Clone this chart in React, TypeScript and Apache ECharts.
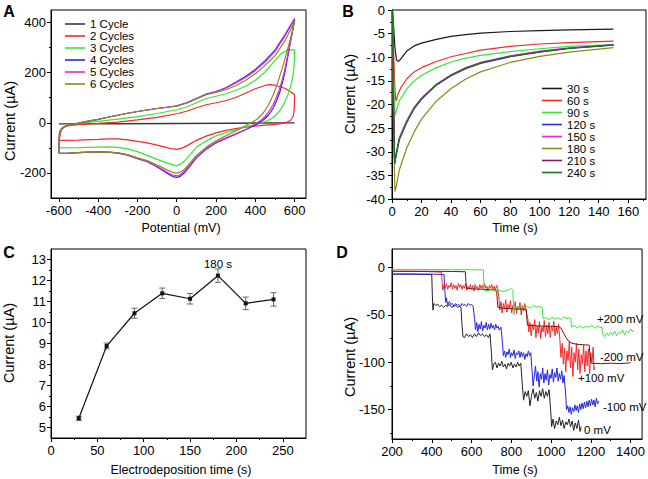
import React, { useEffect, useRef } from "react";
import * as echarts from "echarts";

const FONT = '"Liberation Sans", Arial, Helvetica, sans-serif';

// ---------- Panel A: cyclic voltammograms (potential mV, current µA) ----------
const cycleNames = ["1 Cycle", "2 Cycles", "3 Cycles", "4 Cycles", "5 Cycles", "6 Cycles"];
const cycleColors = ["#3a3a3a", "#f42a2a", "#36e636", "#2a2ad6", "#e622e6", "#8a8a1c"];
const cv1 = [[-600, -4], [-300, -3], [0, -2], [300, -1], [600, 0], [600, -1], [300, -2], [0, -3], [-300, -4], [-600, -4]];
const cv2 = [
  [-600, -70], [-599, -50], [-596, -35], [-588, -24], [-575, -17], [-550, -11], [-500, -7], [-450, -4], [-400, -2], [-300, 3], [-200, 12], [-100, 22], [0, 36], [50, 46], [100, 60], [150, 72], [200, 80], [250, 89], [300, 101], [350, 118], [400, 136], [450, 149], [475, 152], [500, 150], [550, 138], [580, 124], [600, 112],
  [599, 75], [597, 45], [592, 25], [580, 10], [560, 2], [530, -3], [500, -6], [450, -9], [400, -13], [350, -17], [300, -23], [250, -30], [200, -40], [150, -53], [100, -70], [60, -88], [30, -100], [0, -106], [-30, -103], [-60, -97], [-100, -89], [-150, -80], [-200, -74], [-250, -68], [-300, -64], [-350, -64], [-400, -66], [-500, -69], [-580, -70], [-600, -70],
];
const cv3 = [
  [-600, -100], [-599, -70], [-597, -48], [-592, -32], [-582, -20], [-565, -12], [-540, -7], [-500, -3], [-450, 2], [-400, 6], [-300, 15], [-200, 25], [-100, 37], [0, 52], [50, 63], [100, 80], [150, 97], [200, 106], [250, 116], [300, 129], [350, 146], [400, 170], [450, 203], [500, 248], [530, 275], [560, 288], [600, 292],
  [599, 255], [596, 215], [590, 180], [578, 140], [565, 110], [545, 75], [525, 48], [500, 27], [475, 13], [450, 5], [420, -2], [400, -6], [350, -16], [300, -28], [250, -39], [200, -52], [150, -72], [100, -98], [70, -125], [40, -152], [15, -167], [0, -171], [-20, -168], [-50, -160], [-100, -146], [-150, -130], [-200, -115], [-250, -104], [-300, -98], [-350, -96], [-400, -97], [-500, -99], [-600, -100],
];
const cv4 = [
  [-600, -122], [-599, -90], [-597, -60], [-593, -40], [-585, -25], [-570, -15], [-550, -9], [-520, -4], [-500, -1], [-450, 7], [-400, 14], [-350, 22], [-300, 30], [-250, 38], [-200, 45], [-150, 51], [-100, 57], [-50, 62], [0, 68], [50, 80], [100, 97], [150, 115], [200, 125], [250, 140], [300, 162], [350, 185], [400, 213], [450, 248], [500, 290], [550, 350], [600, 416],
  [590, 370], [576, 309], [562, 250], [551, 203], [538, 160], [525, 123], [510, 92], [495, 65], [480, 45], [466, 30], [445, 14], [424, 2], [400, -10], [350, -28], [300, -45], [250, -62], [200, -80], [150, -105], [100, -140], [70, -170], [40, -199], [15, -215], [0, -218], [-15, -216], [-40, -206], [-70, -190], [-100, -176], [-150, -155], [-200, -143], [-250, -129], [-300, -121], [-350, -117], [-400, -116], [-450, -117], [-500, -119], [-550, -121], [-600, -122],
];
const cv5 = [
  [-600, -122], [-599, -90], [-597, -60], [-593, -40], [-585, -25], [-570, -15], [-550, -9], [-520, -4], [-500, -1], [-450, 7], [-400, 14], [-350, 22], [-300, 30], [-250, 38], [-200, 45], [-150, 51], [-100, 57], [-50, 62], [0, 67], [50, 79], [100, 96], [150, 114], [200, 124], [250, 138], [300, 159], [350, 181], [400, 208], [450, 243], [500, 285], [550, 345], [600, 412],
  [590, 372], [576, 315], [562, 258], [548, 205], [534, 163], [520, 128], [505, 98], [490, 72], [475, 52], [455, 30], [435, 14], [415, 3], [395, -8], [350, -27], [300, -44], [250, -60], [200, -78], [150, -102], [100, -136], [70, -165], [40, -192], [15, -209], [0, -212], [-15, -210], [-40, -201], [-70, -186], [-100, -174], [-150, -154], [-200, -142], [-250, -128], [-300, -120], [-350, -117], [-400, -116], [-450, -117], [-500, -119], [-550, -121], [-600, -122],
];
const cv6 = [
  [-600, -122], [-599, -90], [-597, -60], [-593, -40], [-585, -25], [-570, -15], [-550, -9], [-520, -4], [-500, -1], [-450, 7], [-400, 14], [-350, 22], [-300, 30], [-250, 38], [-200, 45], [-150, 51], [-100, 57], [-50, 62], [0, 66], [50, 78], [100, 95], [150, 112], [200, 121], [250, 132], [300, 148], [350, 169], [400, 196], [450, 229], [500, 267], [550, 326], [600, 403],
  [592, 375], [580, 340], [565, 295], [550, 252], [535, 212], [520, 175], [505, 140], [490, 110], [470, 76], [450, 50], [430, 30], [410, 15], [390, 5], [370, -3], [350, -12], [300, -33], [250, -52], [200, -72], [150, -97], [100, -130], [70, -158], [40, -185], [15, -198], [0, -201], [-15, -199], [-40, -191], [-70, -179], [-100, -169], [-150, -151], [-200, -140], [-250, -127], [-300, -120], [-350, -117], [-400, -116], [-450, -117], [-500, -119], [-550, -121], [-600, -122],
];
const cvData = [cv1, cv2, cv3, cv4, cv5, cv6];

// ---------- Panel B: current transients (time s, current µA) ----------
const depNames = ["30 s", "60 s", "90 s", "120 s", "150 s", "180 s", "210 s", "240 s"];
const depColors = ["#1a1a1a", "#f42a2a", "#36e636", "#2a2ad6", "#e622e6", "#8a8a1c", "#7a1a7a", "#1a7a1a"];
const it30 = [[0.3, 0], [1, -3], [2, -8], [3, -10.5], [4, -10.9], [5, -10.7], [7, -9.9], [10, -8.7], [15, -7.6], [20, -7.0], [30, -6.2], [40, -5.6], [50, -5.2], [60, -4.9], [80, -4.55], [100, -4.35], [120, -4.2], [150, -4.05]];
const it60 = [[0.3, 0], [1, -8], [2, -17], [2.7, -19.3], [4, -17.9], [6, -16.4], [10, -14.6], [15, -13.1], [20, -12.2], [30, -10.9], [40, -9.9], [50, -9.2], [60, -8.5], [80, -7.7], [100, -7.2], [120, -6.9], [150, -6.6]];
const it90 = [[0.3, 0], [1, -12], [2, -22.4], [3, -21.2], [5, -19.2], [10, -16.7], [15, -15.0], [20, -13.8], [30, -12.2], [40, -11.0], [50, -10.2], [60, -9.6], [80, -8.8], [100, -8.2], [120, -7.7], [150, -7.3]];
const it120 = [[0.3, 0], [1, -20], [1.8, -32.4], [3, -30.2], [5, -27.2], [10, -23.6], [15, -20.7], [20, -18.7], [30, -15.8], [40, -13.8], [50, -12.3], [60, -11.2], [80, -9.8], [100, -8.8], [120, -8.1], [150, -7.4]];
const it150 = [[0.3, 0], [1, -20], [1.8, -32.3], [3, -30.0], [5, -27.0], [10, -23.4], [15, -20.6], [20, -18.6], [30, -15.7], [40, -13.7], [50, -12.2], [60, -11.1], [80, -9.7], [100, -8.7], [120, -8.0], [150, -7.35]];
const it180 = [[0.3, 0], [1, -25], [2, -38.4], [3, -37.2], [5, -33.8], [10, -29.2], [15, -25.8], [20, -23.1], [30, -19.3], [40, -16.6], [50, -14.6], [60, -13.1], [80, -11.1], [100, -9.8], [120, -8.9], [150, -7.95]];
const it210 = [[0.3, 0], [1, -20], [1.8, -32.6], [3, -30.4], [5, -27.4], [10, -23.8], [15, -20.9], [20, -18.9], [30, -15.9], [40, -13.9], [50, -12.4], [60, -11.3], [80, -9.9], [100, -8.9], [120, -8.15], [150, -7.45]];
const it240 = [[0.3, 0], [1, -20], [1.8, -32.5], [3, -30.3], [5, -27.3], [10, -23.7], [15, -20.8], [20, -18.8], [30, -15.8], [40, -13.8], [50, -12.3], [60, -11.2], [80, -9.8], [100, -8.85], [120, -8.1], [150, -7.4]];
const itData = [it30, it60, it90, it120, it150, it180, it210, it240];

// ---------- Panel C: peak current vs electrodeposition time ----------
const depTimes = [30, 60, 90, 120, 150, 180, 210, 240];
const peakCurrent = [5.44, 8.88, 10.44, 11.39, 11.13, 12.23, 10.91, 11.1];
const peakError = [0.1, 0.14, 0.24, 0.25, 0.25, 0.32, 0.3, 0.32];

// ---------- Panel D: amperometric responses (time s, current µA) ----------
const ampNames = ["0 mV", "-100 mV", "+100 mV", "-200 mV", "+200 mV"];
const ampColors = ["#222222", "#2424e0", "#f42a2a", "#7a1010", "#36e636"];
const amp0 = [
  [200, -7], [300, -7], [400, -7.5], [403, -30], [406, -45], [410, -38], [420, -40], [430, -39], [440, -41], [450, -40], [460, -42], [470, -40], [480, -41], [490, -39], [500, -42], [510, -41], [520, -40], [530, -42], [540, -41], [547, -42],
  [552, -60], [557, -73], [565, -74], [575, -70], [585, -73], [595, -71], [605, -74], [615, -70], [625, -73], [635, -69], [645, -72], [655, -70], [665, -73], [675, -71], [685, -74], [693, -70],
  [700, -90], [705, -108], [712, -102], [720, -100], [728, -106], [736, -101], [744, -104], [752, -99], [760, -105], [768, -102], [776, -107], [784, -101], [792, -104], [800, -100], [808, -106], [816, -102], [824, -105], [832, -100], [840, -104], [848, -101],
  [856, -125], [862, -140], [870, -131], [878, -136], [886, -130], [894, -146], [902, -135], [910, -128], [918, -138], [926, -132], [934, -141], [942, -130], [950, -136], [958, -128], [966, -138], [974, -131], [982, -136], [990, -129],
  [998, -150], [1003, -168], [1010, -160], [1018, -170], [1026, -162], [1034, -166], [1042, -158], [1050, -167], [1058, -161], [1066, -170], [1074, -163], [1082, -166], [1090, -160], [1098, -168], [1106, -162], [1114, -172], [1122, -164], [1130, -170], [1138, -161], [1146, -173], [1152, -168],
];
const ampM100 = [
  [200, -7], [300, -7], [400, -7], [462, -7.5], [466, -25], [470, -37], [474, -32], [480, -40], [488, -36], [496, -39], [504, -38], [512, -41], [520, -38], [528, -40], [536, -39], [544, -41], [552, -38], [560, -40], [568, -39], [576, -41], [584, -38], [592, -40], [600, -39], [608, -41],
  [616, -55], [620, -66], [626, -58], [632, -68], [638, -60], [644, -65], [650, -57], [656, -67], [662, -61], [668, -64], [674, -58], [680, -66], [686, -60], [692, -65], [698, -59], [704, -64], [710, -61], [716, -66], [722, -60], [728, -64], [734, -62], [740, -66], [748, -63],
  [756, -80], [760, -93], [766, -88], [772, -95], [778, -89], [784, -92], [790, -86], [796, -95], [802, -90], [808, -93], [814, -87], [820, -96], [826, -90], [832, -92], [838, -88], [844, -95], [850, -89], [856, -94], [862, -90], [868, -97], [874, -91], [880, -94], [886, -88], [892, -93], [898, -90],
  [905, -110], [910, -125], [916, -114], [922, -104], [928, -120], [934, -110], [940, -126], [946, -112], [952, -118], [958, -106], [964, -122], [970, -112], [976, -119], [982, -108], [988, -124], [994, -113], [1000, -117], [1006, -107], [1012, -121], [1018, -111], [1024, -116], [1030, -106], [1036, -120], [1042, -112], [1048, -118], [1054, -109], [1060, -122], [1066, -114],
  [1074, -135], [1078, -150], [1084, -146], [1090, -153], [1096, -147], [1102, -155], [1108, -148], [1114, -152], [1120, -145], [1126, -151], [1132, -146], [1138, -153], [1144, -144], [1150, -150], [1156, -143], [1162, -149], [1168, -142], [1174, -148], [1180, -141], [1186, -147], [1192, -140], [1198, -146], [1204, -139], [1210, -145], [1216, -140], [1222, -147], [1228, -138], [1234, -144], [1240, -141],
];
const ampP100 = [
  [200, -4], [300, -4], [400, -4.5], [449, -5], [452, -15], [456, -24], [462, -18], [468, -22], [474, -17], [480, -23], [486, -19], [492, -21], [498, -16], [504, -23], [510, -18], [516, -22], [522, -19], [528, -24], [534, -17], [540, -21], [546, -18], [552, -23], [558, -19], [564, -22], [570, -17], [576, -24], [582, -20], [588, -22], [594, -18], [600, -23], [606, -19], [612, -25], [618, -18], [624, -22], [630, -20], [636, -24], [642, -18], [648, -22], [654, -19], [660, -23], [666, -17], [672, -22], [678, -20], [684, -25], [690, -19], [696, -22], [702, -18], [708, -23], [714, -20], [720, -24], [726, -19], [732, -22],
  [738, -32], [742, -45], [748, -36], [754, -48], [760, -38], [766, -44], [772, -34], [778, -47], [784, -39], [790, -43], [796, -35], [802, -48], [808, -40], [814, -45], [820, -36], [826, -49], [832, -41], [838, -44], [844, -37], [850, -50], [856, -40], [862, -46], [868, -38], [874, -45],
  [884, -55], [888, -68], [894, -58], [900, -72], [906, -60], [912, -66], [918, -55], [924, -74], [930, -62], [936, -69], [942, -57], [948, -75], [954, -63], [960, -68], [966, -56], [972, -73], [978, -61], [984, -70], [990, -58], [996, -74], [1002, -62], [1008, -67], [1014, -57], [1020, -72], [1026, -63], [1032, -70], [1038, -60],
  [1044, -75], [1050, -95], [1056, -80], [1062, -102], [1068, -85], [1074, -110], [1080, -88], [1086, -98], [1092, -78], [1098, -106], [1104, -84], [1110, -115], [1116, -90], [1122, -100], [1128, -80], [1134, -108], [1140, -86], [1146, -112], [1152, -92], [1158, -102], [1164, -82], [1170, -110], [1176, -88], [1182, -104], [1188, -86], [1194, -112], [1200, -90], [1206, -100], [1212, -84], [1216, -108], [1220, -105],
];
const ampM200 = [
  [200, -4], [300, -4], [400, -4], [500, -4.2], [569, -4.5], [572, -15], [575, -22], [600, -22.5], [650, -23], [700, -23.5], [726, -24],
  [730, -35], [733, -42], [760, -43], [800, -43.5], [850, -44], [875, -44], [879, -55], [882, -61], [920, -61.5], [960, -62], [1000, -62], [1040, -62.5], [1050, -64], [1060, -68], [1075, -74], [1090, -78], [1105, -80], [1130, -81], [1160, -81.5], [1192, -82],
  [1197, -95], [1202, -101], [1250, -101.5], [1300, -101], [1350, -101.5], [1400, -100.5],
];
const ampP200 = [
  [200, -2], [300, -2], [400, -2.2], [500, -2.3], [600, -2.4], [660, -2.5], [663, -24], [680, -24.5], [700, -23.5], [720, -25], [740, -24], [760, -25.5], [780, -24], [790, -23], [800, -22.5], [808, -24],
  [811, -40], [813, -50], [816, -41], [835, -43], [850, -40.5], [865, -42.5], [880, -41], [895, -43], [910, -40], [925, -42], [940, -41], [955, -42.5],
  [961, -54], [975, -53], [990, -55], [1005, -52.5], [1020, -54.5], [1035, -53], [1050, -55], [1065, -52], [1080, -54], [1095, -53], [1100, -54],
  [1103, -63], [1115, -61], [1130, -63.5], [1145, -61.5], [1160, -64], [1175, -62], [1190, -63], [1205, -61], [1220, -64], [1235, -62], [1250, -63.5], [1255, -62],
  [1259, -70], [1270, -73], [1280, -69], [1290, -72], [1300, -68], [1310, -71], [1320, -67], [1330, -72], [1340, -68], [1350, -70], [1360, -66], [1370, -71], [1380, -67], [1390, -69], [1400, -65], [1410, -68], [1416, -66],
];
const ampData = [amp0, ampM100, ampP100, ampM200, ampP200];

// ---------- tick values ----------
const aXMajor = [-600, -400, -200, 0, 200, 400, 600];
const aXMinor = [-500, -300, -100, 100, 300, 500];
const aYMajor = [-200, 0, 200, 400];
const aYMinor = [-100, 100, 300];
const bXMajor = [0, 20, 40, 60, 80, 100, 120, 140, 160];
const bXMinor = [10, 30, 50, 70, 90, 110, 130, 150, 170];
const bYMajor = [0, -5, -10, -15, -20, -25, -30, -35, -40];
const bYMinor = [-2.5, -7.5, -12.5, -17.5, -22.5, -27.5, -32.5, -37.5];
const cXMajor = [0, 50, 100, 150, 200, 250];
const cXMinor = [25, 75, 125, 175, 225];
const cYMajor = [5, 6, 7, 8, 9, 10, 11, 12, 13];
const cYMinor = [5.5, 6.5, 7.5, 8.5, 9.5, 10.5, 11.5, 12.5];
const dXMajor = [200, 400, 600, 800, 1000, 1200, 1400];
const dXMinor = [300, 500, 700, 900, 1100, 1300];
const dYMajor = [-150, -100, -50, 0];
const dYMinor = [-175, -125, -75, -25];

function axisPair(gridIndex: number, position: string, min: number, max: number, majors: number[], minors: number[], margin: number) {
  const base = { type: "value", gridIndex, min, max, position, splitLine: { show: false } };
  return [
    {
      ...base,
      axisLine: { show: true, onZero: false, lineStyle: { color: "#000", width: 1 } },
      axisTick: { show: true, inside: false, length: 4, customValues: majors, lineStyle: { color: "#000", width: 1 } },
      axisLabel: {
        show: true, customValues: majors, margin, fontSize: 13, color: "#000", fontFamily: FONT, hideOverlap: false,
        formatter: (v: number) => String(v),
      },
    },
    {
      ...base,
      axisLine: { show: false, onZero: false },
      axisTick: { show: true, inside: false, length: 2, customValues: minors, lineStyle: { color: "#000", width: 1 } },
      axisLabel: { show: false },
    },
  ];
}

function text(x: number, y: number, t: string, size: number, opts: any = {}) {
  return {
    type: "text",
    x,
    y,
    rotation: opts.rotation || 0,
    style: {
      text: t,
      fontSize: size,
      fontFamily: FONT,
      fontWeight: opts.bold ? "bold" : "normal",
      fill: "#000",
      align: opts.align || "center",
      verticalAlign: "middle",
    },
  };
}

export default function App() {
  const ref = useRef<HTMLDivElement>(null);
  useEffect(() => {
    const chart = echarts.init(ref.current!, null, { renderer: "svg" });
    const gridBox = { show: true, borderColor: "#000", borderWidth: 1, backgroundColor: "transparent" };
    const xAxis = [
      ...axisPair(0, "bottom", -640, 658, aXMajor, aXMinor, 6),
      ...axisPair(1, "bottom", 0, 172, bXMajor, bXMinor, 6),
      ...axisPair(2, "bottom", 0, 275, cXMajor, cXMinor, 6),
      ...axisPair(3, "bottom", 200, 1458, dXMajor, dXMinor, 6),
    ];
    const yAxis = [
      ...axisPair(0, "left", -300, 450, aYMajor, aYMinor, 5),
      ...axisPair(1, "left", -40, 0, bYMajor, bYMinor, 7),
      ...axisPair(2, "left", 4.5, 13.5, cYMajor, cYMinor, 5),
      ...axisPair(3, "left", -181, 19.5, dYMajor, dYMinor, 7),
    ];
    const series: any[] = [];
    cvData.forEach((d, i) =>
      series.push({
        type: "line", name: cycleNames[i], data: d, xAxisIndex: 0, yAxisIndex: 0,
        symbol: "none", lineStyle: { width: 1.2, color: cycleColors[i] }, itemStyle: { color: cycleColors[i] },
      })
    );
    itData.forEach((d, i) =>
      series.push({
        type: "line", name: depNames[i], data: d, xAxisIndex: 2, yAxisIndex: 2,
        symbol: "none", lineStyle: { width: 1.2, color: depColors[i] }, itemStyle: { color: depColors[i] },
      })
    );
    series.push({
      type: "custom", name: "err", xAxisIndex: 4, yAxisIndex: 4,
      data: depTimes.map((x, i) => [x, peakCurrent[i], peakError[i]]),
      encode: { x: 0, y: 1 },
      renderItem: (params: any, api: any) => {
        const x = api.value(0), y = api.value(1), e = api.value(2);
        const a = api.coord([x, y + e]);
        const b = api.coord([x, y - e]);
        const st = { stroke: "#666", lineWidth: 1 };
        return {
          type: "group",
          children: [
            { type: "line", shape: { x1: a[0], y1: a[1], x2: b[0], y2: b[1] }, style: st },
            { type: "line", shape: { x1: a[0] - 3, y1: a[1], x2: a[0] + 3, y2: a[1] }, style: st },
            { type: "line", shape: { x1: b[0] - 3, y1: b[1], x2: b[0] + 3, y2: b[1] }, style: st },
          ],
        };
      },
    });
    series.push({
      type: "line", name: "peak", data: depTimes.map((x, i) => [x, peakCurrent[i]]), xAxisIndex: 4, yAxisIndex: 4,
      symbol: "rect", symbolSize: 4, showSymbol: true, lineStyle: { width: 1.2, color: "#111" }, itemStyle: { color: "#111" },
    });
    ampData.forEach((d, i) =>
      series.push({
        type: "line", name: ampNames[i], data: d, xAxisIndex: 6, yAxisIndex: 6,
        symbol: "none", lineStyle: { width: 1, color: ampColors[i] }, itemStyle: { color: ampColors[i] },
      })
    );

    const legendCommon = {
      orient: "vertical", itemWidth: 20, itemHeight: 1.6, itemGap: 0, padding: 0, icon: "rect",
      textStyle: { fontSize: 11.5, fontFamily: FONT, color: "#000", lineHeight: 11.6 },
      selectedMode: false,
    };

    chart.setOption({
      animation: false,
      backgroundColor: "#fff",
      grid: [
        { left: 51, top: 10, width: 255, height: 188, ...gridBox },
        { left: 392, top: 10, width: 254, height: 189, ...gridBox },
        { left: 51, top: 249, width: 255, height: 189, ...gridBox },
        { left: 392, top: 249, width: 254, height: 190, ...gridBox },
      ],
      xAxis,
      yAxis,
      legend: [
        { ...legendCommon, left: 65, top: 18, data: cycleNames },
        { ...legendCommon, left: 542, top: 82.5, data: depNames },
      ],
      series,
      graphic: [
        text(9, 11, "A", 16, { bold: true }),
        text(348, 11, "B", 16, { bold: true }),
        text(9, 252, "C", 16, { bold: true }),
        text(342, 252, "D", 16, { bold: true }),
        text(9.5, 121, "Current (µA)", 14.5, { rotation: Math.PI / 2 }),
        text(350, 94, "Current (µA)", 14.5, { rotation: Math.PI / 2 }),
        text(8.7, 343, "Current (µA)", 14.5, { rotation: Math.PI / 2 }),
        text(350, 357, "Current (µA)", 14.5, { rotation: Math.PI / 2 }),
        text(181, 228, "Potential (mV)", 12.5),
        text(515, 228, "Time (s)", 12.5),
        text(181, 470, "Electrodeposition time (s)", 12.5),
        text(515, 470, "Time (s)", 12.5),
        text(218, 263.5, "180 s", 11.5),
        text(597, 319, "+200 mV", 11.5, { align: "left" }),
        text(600, 357, "-200 mV", 11.5, { align: "left" }),
        text(578, 378, "+100 mV", 11.5, { align: "left" }),
        text(603, 407, "-100 mV", 11.5, { align: "left" }),
        text(584, 430, "0 mV", 11.5, { align: "left" }),
      ],
    });
    return () => chart.dispose();
  }, []);
  return <div ref={ref} style={{ position: "absolute", left: 0, top: 0, width: 648, height: 479, background: "#fff" }} />;
}
